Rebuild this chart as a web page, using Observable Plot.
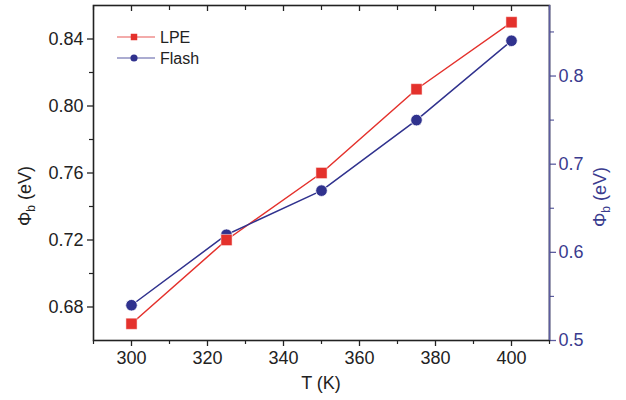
<!DOCTYPE html>
<html>
<head>
<meta charset="utf-8">
<script src="https://cdn.jsdelivr.net/npm/d3@7"></script>
<script src="https://cdn.jsdelivr.net/npm/@observablehq/plot@0.6"></script>
<style>
  html, body { margin: 0; padding: 0; background: #fff; }
  #chart { position: relative; width: 626px; height: 400px; }
</style>
</head>
<body>
<div id="chart"></div>
<script>
// ---- data ----
const temperatures = [300, 325, 350, 375, 400];
const lpeValues = [0.67, 0.72, 0.76, 0.81, 0.85];      // left axis
const flashValues = [0.54, 0.62, 0.67, 0.75, 0.84];    // right axis
const seriesNames = ["LPE", "Flash"];
const xMajorTicks = [300, 320, 340, 360, 380, 400];
const xMinorTicks = [290, 310, 330, 350, 370, 390, 410];
const leftMajorTicks = [0.68, 0.72, 0.76, 0.80, 0.84];
const leftMinorTicks = [0.70, 0.74, 0.78, 0.82];
const rightMajorTicks = [0.5, 0.6, 0.7, 0.8];
const rightMinorTicks = [0.55, 0.65, 0.75, 0.85];

const xDomain = [290, 410];
const leftDomain = [0.66, 0.86];
const rightDomain = [0.5, 0.88];

const RED = "#e4312c";
const BLUE = "#30328e";
const AXIS_BLUE = "#5c5da0";
const TEXT_BLUE = "#3a3b8e";
const FONT = "'Liberation Sans', Arial, Helvetica, sans-serif";

// map right-axis values onto the left scale
const toLeft = v => leftDomain[0] + (v - rightDomain[0]) * (leftDomain[1] - leftDomain[0]) / (rightDomain[1] - rightDomain[0]);
const fromLeft = v => rightDomain[0] + (v - leftDomain[0]) * (rightDomain[1] - rightDomain[0]) / (leftDomain[1] - leftDomain[0]);

const lpe = temperatures.map((t, i) => ({T: t, v: lpeValues[i]}));
const flash = temperatures.map((t, i) => ({T: t, v: toLeft(flashValues[i])}));

const W = 626, H = 400;
const MT = 5, MB = 60;
const innerH = H - MT - MB;
const plot = Plot.plot({
  width: W,
  height: H,
  marginLeft: 93,
  marginRight: 77,
  marginTop: MT,
  marginBottom: MB,
  style: {fontFamily: FONT, background: "transparent", overflow: "visible"},
  x: {domain: xDomain},
  y: {domain: leftDomain},
  marks: [
    // bottom axis
    Plot.axisX({anchor: "bottom", ticks: xMajorTicks, tickSize: 6, tickPadding: 5, tickFormat: d3.format("d"), fontSize: 18, label: null, stroke: "#222", fill: "#222", strokeWidth: 1.3}),
    Plot.axisX({anchor: "bottom", ticks: xMinorTicks, tickSize: 4, tickFormat: () => "", label: null, stroke: "#222", strokeWidth: 1.2}),
    // top axis (inward ticks)
    Plot.tickX(xMajorTicks, {x: d => d, insetBottom: innerH - 6, stroke: "#222", strokeWidth: 1.3}),
    Plot.tickX(xMinorTicks, {x: d => d, insetBottom: innerH - 5, stroke: "#222", strokeWidth: 1.2}),
    // left axis
    Plot.axisY({anchor: "left", ticks: leftMajorTicks, tickSize: 6, tickPadding: 4, tickFormat: d3.format(".2f"), fontSize: 18, label: null, stroke: "#222", fill: "#222", strokeWidth: 1.3}),
    Plot.axisY({anchor: "left", ticks: leftMinorTicks, tickSize: 4, tickFormat: () => "", label: null, stroke: "#222", strokeWidth: 1.2}),
    // right axis
    Plot.axisY({anchor: "right", ticks: rightMajorTicks.map(toLeft), tickSize: 6, tickPadding: 3, tickFormat: v => d3.format(".1f")(fromLeft(v)), fontSize: 18, label: null, stroke: AXIS_BLUE, fill: TEXT_BLUE, strokeWidth: 1.3}),
    Plot.axisY({anchor: "right", ticks: rightMinorTicks.map(toLeft), tickSize: 4, tickFormat: () => "", label: null, stroke: AXIS_BLUE, strokeWidth: 1.2}),
    // frame
    Plot.frame({stroke: "#222", strokeWidth: 1.6}),
    Plot.ruleX([xDomain[1]], {stroke: AXIS_BLUE, strokeWidth: 1.6}),
    // series
    Plot.line(lpe, {x: "T", y: "v", stroke: RED, strokeWidth: 1.5}),
    Plot.line(flash, {x: "T", y: "v", stroke: BLUE, strokeWidth: 1.5}),
    Plot.dot(flash, {x: "T", y: "v", r: 5.8, fill: BLUE, stroke: "white", strokeWidth: 0.8}),
    Plot.dot(lpe, {x: "T", y: "v", symbol: "square", r: 6.3, fill: RED, stroke: "white", strokeWidth: 0.5})
  ]
});

document.getElementById("chart").appendChild(plot);

// axis titles
const svg = d3.select(plot);
function phiLabel(x, y, color) {
  const t = svg.append("text")
    .attr("transform", `translate(${x},${y}) rotate(-90)`)
    .attr("text-anchor", "middle")
    .attr("font-family", FONT)
    .attr("font-size", 18)
    .attr("fill", color);
  t.append("tspan").text("Φ");
  t.append("tspan").attr("font-size", 12).attr("dy", 4).text("b");
  t.append("tspan").attr("dy", -4).text(" (eV)");
}
phiLabel(31, 196, "#222");
phiLabel(606, 197, TEXT_BLUE);
svg.append("text")
  .attr("x", 321).attr("y", 389)
  .attr("text-anchor", "middle")
  .attr("font-family", FONT)
  .attr("font-size", 18)
  .attr("fill", "#222")
  .text("T (K)");

// legend
const legendColors = [RED, BLUE];
const legendSymbols = [d3.symbolSquare, d3.symbolCircle];
const lg = svg.append("g").attr("transform", "translate(117,37)");
seriesNames.forEach((name, i) => {
  const g = lg.append("g").attr("transform", `translate(0,${i * 21})`);
  g.append("line").attr("x1", 0).attr("x2", 38).attr("y1", 0).attr("y2", 0)
    .attr("stroke", legendColors[i]).attr("stroke-width", 1.2).attr("opacity", 0.8);
  g.append("path").attr("transform", "translate(17,0)")
    .attr("d", d3.symbol(legendSymbols[i], i === 0 ? 42 : 40)())
    .attr("fill", legendColors[i]);
  g.append("text").attr("x", 43).attr("y", 5.8)
    .attr("text-anchor", "start")
    .attr("font-family", FONT).attr("font-size", 16).attr("fill", "#222")
    .text(name);
});
</script>
</body>
</html>
